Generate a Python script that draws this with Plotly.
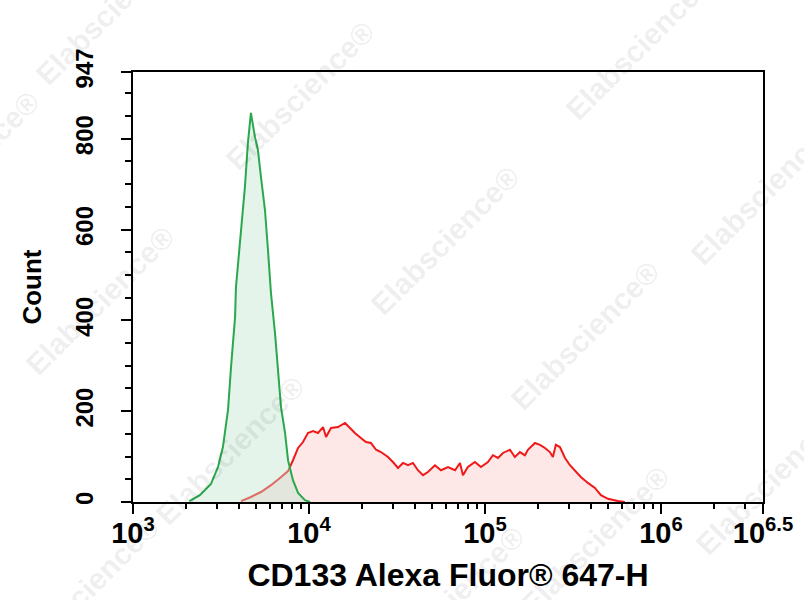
import plotly.graph_objects as go

# ---- data (x as log10 of intensity, y as count) ----
iso_log = [3.320, 3.380, 3.443, 3.483, 3.511, 3.540, 3.557, 3.580, 3.585, 3.608,
           3.625, 3.636, 3.653, 3.670, 3.693, 3.710, 3.727, 3.750, 3.767, 3.784,
           3.807, 3.824, 3.841, 3.864, 3.881, 3.909, 3.938, 3.977, 4.006]
iso_count = [2, 15, 40, 77, 121, 203, 297, 407, 473, 577,
             658, 694, 791, 857, 804, 775, 716, 643, 555, 460,
             372, 284, 209, 152, 92, 48, 20, 4, 0]

cd_log = [3.614, 3.670, 3.727, 3.784, 3.835, 3.881, 3.909, 3.938, 3.966, 3.994,
          4.023, 4.051, 4.080, 4.097, 4.125, 4.165, 4.205, 4.233, 4.261, 4.295,
          4.324, 4.352, 4.381, 4.409, 4.449, 4.477, 4.506, 4.534, 4.563, 4.591,
          4.619, 4.648, 4.676, 4.716, 4.750, 4.790, 4.830, 4.858, 4.875, 4.903,
          4.943, 4.977, 5.017, 5.045, 5.074, 5.102, 5.142, 5.170, 5.199, 5.227,
          5.244, 5.284, 5.313, 5.341, 5.369, 5.386, 5.403, 5.426, 5.455, 5.483,
          5.511, 5.545, 5.585, 5.625, 5.659, 5.699, 5.756, 5.795]
cd_count = [2, 11, 22, 37, 53, 68, 92, 119, 132, 152,
            156, 152, 165, 143, 163, 165, 174, 163, 152, 141,
            132, 130, 115, 110, 99, 88, 75, 86, 81, 86,
            70, 59, 66, 81, 70, 77, 70, 86, 59, 77,
            88, 77, 88, 103, 97, 108, 115, 99, 110, 103,
            115, 130, 126, 119, 110, 99, 126, 121, 97, 81,
            70, 55, 42, 31, 15, 7, 2, 0]

x_tick_exp = [3, 4, 5, 6, 6.58]
x_tick_text = ["10<sup>3</sup>", "10<sup>4</sup>", "10<sup>5</sup>",
               "10<sup>6</sup>", "10<sup>6.5</sup>"]
y_tick_vals = [0, 200, 400, 600, 800, 947]
y_max = 947
x_title = "CD133 Alexa Fluor® 647-H"
y_title = "Count"
watermark = "Elabscience®"
# watermark centres, in page pixels
wm_px = [(300, 95), (640, 45), (445, 240), (100, 300), (585, 335), (765, 190),
         (230, 450), (110, 10), (595, 540), (770, 480), (-35, 165), (85, 590),
         (450, 600)]

W, H = 804, 600
ML, MR, MT, MB = 133, 41, 72, 98
PW, PH = W - ML - MR, H - MT - MB

fig = go.Figure()
fig.add_trace(go.Scatter(
    x=[10 ** v for v in cd_log], y=cd_count, mode="lines",
    line=dict(color="#f01818", width=2), fill="tozeroy",
    fillcolor="rgba(250,195,195,0.40)", showlegend=False))
fig.add_trace(go.Scatter(
    x=[10 ** v for v in iso_log], y=iso_count, mode="lines",
    line=dict(color="#2aa84e", width=2), fill="tozeroy",
    fillcolor="rgba(190,228,205,0.42)", showlegend=False))

minor_x = [m * 10 ** d for d in range(3, 7) for m in range(2, 10)
           if m * 10 ** d < 10 ** x_tick_exp[-1]]

font_b = dict(family="Liberation Sans, Arial", color="black", weight="bold")

fig.update_xaxes(
    type="log", range=[3, x_tick_exp[-1]],
    tickvals=[10 ** v for v in x_tick_exp], ticktext=x_tick_text,
    tickfont=dict(size=29, **font_b), ticklabelstandoff=-6,
    ticks="outside", ticklen=10, tickwidth=2, tickcolor="black",
    minor=dict(tickvals=minor_x, ticks="outside", ticklen=5, tickwidth=1.5,
               tickcolor="black"),
    showline=True, linecolor="black", linewidth=2, mirror=True,
    showgrid=False, zeroline=False,
    title=dict(text=x_title, font=dict(size=32, **font_b), standoff=16))
fig.update_yaxes(
    range=[0, y_max], tickmode="array", tickvals=y_tick_vals,
    tickangle=-90, tickfont=dict(size=24, **font_b), ticklabelstandoff=18,
    ticks="outside", ticklen=10, tickwidth=2, tickcolor="black",
    minor=dict(tickmode="linear", tick0=0, dtick=50, ticks="outside",
               ticklen=6, tickwidth=1.5, tickcolor="black"),
    showline=True, linecolor="black", linewidth=2, mirror=True,
    showgrid=False, zeroline=False,
    title=dict(text=y_title, font=dict(size=26, **font_b), standoff=22))

for (px, py) in wm_px:
    fig.add_annotation(x=(px - ML) / PW, y=(H - MB - py) / PH,
                       xref="paper", yref="paper", xanchor="center",
                       yanchor="middle", text=watermark, showarrow=False,
                       textangle=-45,
                       font=dict(family="Liberation Sans, Arial", size=30,
                                 color="rgba(0,0,0,0.08)", weight="bold"))

fig.update_layout(
    width=W, height=H, paper_bgcolor="white", plot_bgcolor="white",
    margin=dict(l=ML, r=MR, t=MT, b=MB, autoexpand=False))

fig.write_html("out.html", config={"displayModeBar": False},
               post_script="document.body.style.margin='0';")
